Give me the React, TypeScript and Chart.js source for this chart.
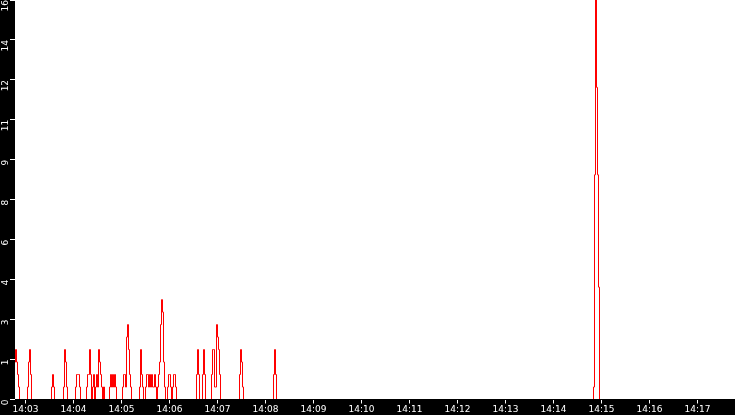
import { useEffect, useRef } from "react";
import { Chart, registerables } from "chart.js";

Chart.register(...registerables);

// the sampler writes one reading every 1.25 s (one pixel column)
const SAMPLE_SECONDS = 1.25;
const AXIS_START = "14:02:46.875";
const AXIS_END = "14:17:46.875";
const Y_MAX = 16;

const xTickLabels = [
  "14:03", "14:04", "14:05", "14:06", "14:07", "14:08", "14:09", "14:10",
  "14:11", "14:12", "14:13", "14:14", "14:15", "14:16", "14:17",
];
const yTickLabels = ["0", "1", "3", "4", "6", "8", "9", "11", "12", "14", "16"];

// start of each burst and the readings that follow it
const burstStarts = [
  "14:02:47.5", "14:03:03.75", "14:03:33.75", "14:03:48.75", "14:04:03.75",
  "14:04:17.5", "14:04:46.25", "14:05:02.5", "14:05:23.75", "14:05:31.25",
  "14:05:46.25", "14:05:58.75", "14:06:35", "14:06:42.5", "14:06:53.75",
  "14:07:28.75", "14:08:11.25", "14:14:51.25",
];
const burstValues = [
  [1.5, 2, 1.5, 1, 0.5],
  [0.5, 1.5, 2, 1],
  [0.5, 1, 0.5],
  [0.5, 2, 1.5, 0.5],
  [0.5, 1, 1, 1, 0.5],
  [0.5, 1, 1, 2, 1, 0, 0.5, 1, 0, 0.5, 1, 0.5, 2, 1.5, 1, 0.5, 0, 0.5],
  [0.5, 1, 0.5, 1, 0.5, 1, 0.5],
  [0.5, 1, 1, 0.5, 2.5, 3, 2, 1, 0.5],
  [0.5, 2, 1, 0.5],
  [0.5, 1, 1, 0.5, 1, 0.5, 1, 0.5, 0.5, 1, 0.5],
  [0.5, 1, 1.5, 3, 4, 3.5, 1.5, 0.5],
  [0.5, 1, 1, 0.5, 0, 0.5, 1, 1, 0.5],
  [1, 2, 1],
  [1, 2, 1],
  [1, 2, 2, 0.5, 0.5, 3, 2.5, 2, 1],
  [1, 2, 1.5, 0.5],
  [1, 2, 1],
  [0.5, 9, 16, 12.5, 9, 4.5],
];

// seconds after 14:00
function toSeconds(t: string) {
  const [h, m, s = "0"] = t.split(":");
  return (Number(h) - 14) * 3600 + Number(m) * 60 + Number(s);
}

function buildPoints() {
  const pts: { x: number; y: number }[] = [];
  burstStarts.forEach((start, i) => {
    const t0 = Math.round(toSeconds(start) / SAMPLE_SECONDS) * SAMPLE_SECONDS;
    const vals = burstValues[i];
    pts.push({ x: t0 - SAMPLE_SECONDS, y: 0 });
    vals.forEach((v, j) => pts.push({ x: t0 + j * SAMPLE_SECONDS, y: v }));
    pts.push({ x: t0 + vals.length * SAMPLE_SECONDS, y: 0 });
  });
  return pts;
}

const tickFont = { family: "DejaVu Sans", size: 9 };

// black bands behind the axes, painted over the zero line
const axisBands = {
  id: "axisBands",
  afterDatasetsDraw(chart: any) {
    const { ctx, chartArea, width, height } = chart;
    ctx.save();
    ctx.fillStyle = "#000";
    ctx.fillRect(0, 0, chartArea.left, height);
    const y = Math.floor(chartArea.bottom);
    ctx.fillRect(0, y, width, height - y);
    ctx.restore();
  },
};

export default function App() {
  const canvasRef = useRef<HTMLCanvasElement>(null);
  const chartRef = useRef<Chart | null>(null);

  useEffect(() => {
    if (!canvasRef.current) return;
    if (chartRef.current) chartRef.current.destroy();

    chartRef.current = new Chart(canvasRef.current, {
      type: "line",
      data: {
        datasets: [
          {
            data: buildPoints(),
            borderColor: "#ff0000",
            borderWidth: 1,
            pointRadius: 0,
            stepped: "after",
            fill: false,
            tension: 0,
          },
        ],
      },
      options: {
        responsive: false,
        animation: false,
        events: [],
        layout: { padding: 0, autoPadding: false },
        plugins: {
          legend: { display: false },
          tooltip: { enabled: false },
          title: { display: false },
        },
        scales: {
          x: {
            type: "linear",
            min: toSeconds(AXIS_START),
            max: toSeconds(AXIS_END),
            afterBuildTicks: (scale: any) => {
              scale.ticks = xTickLabels.map((l) => ({ value: toSeconds(l) }));
            },
            afterFit: (scale: any) => {
              scale.height = 15.5;
              scale.paddingLeft = 0;
              scale.paddingRight = 0;
            },
            ticks: {
              z: 1,
              autoSkip: false,
              maxRotation: 0,
              padding: 1,
              color: "#ffffff",
              font: tickFont,
              callback: (_v: any, i: number) => xTickLabels[i],
            },
            grid: {
              z: 1,
              drawOnChartArea: false,
              color: "#ffffff",
              tickColor: "#ffffff",
              tickLength: 4,
            },
            border: { display: false },
          },
          y: {
            type: "linear",
            min: 0,
            max: Y_MAX,
            afterBuildTicks: (scale: any) => {
              scale.ticks = yTickLabels.map((_l, i) => ({
                value: (i * Y_MAX) / (yTickLabels.length - 1),
              }));
            },
            afterFit: (scale: any) => {
              scale.width = 15;
              scale.paddingTop = 0;
              scale.paddingBottom = 0;
            },
            ticks: {
              z: 1,
              autoSkip: false,
              minRotation: 90,
              maxRotation: 90,
              crossAlign: "near",
              padding: 4,
              color: "#ffffff",
              font: tickFont,
              callback: (_v: any, i: number) => yTickLabels[i],
            },
            grid: {
              z: 1,
              drawOnChartArea: false,
              color: "#ffffff",
              tickColor: "#ffffff",
              tickLength: 5,
            },
            border: { display: false },
          },
        },
      },
      plugins: [axisBands],
    } as any);

    return () => {
      if (chartRef.current) {
        chartRef.current.destroy();
        chartRef.current = null;
      }
    };
  }, []);

  return (
    <canvas
      ref={canvasRef}
      width={735}
      height={415}
      style={{ position: "fixed", left: 0, top: 0, display: "block" }}
    ></canvas>
  );
}
